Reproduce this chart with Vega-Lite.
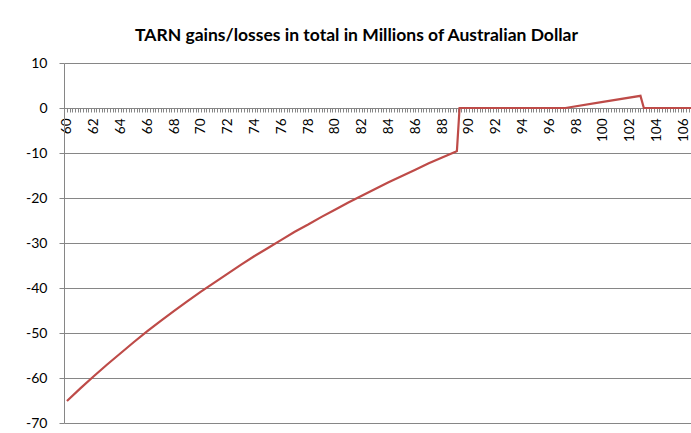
{
  "$schema": "https://vega.github.io/schema/vega-lite/v6.json",
  "width": 627,
  "height": 360,
  "autosize": {"type": "none"},
  "padding": {"left": 64, "top": 63, "right": 0, "bottom": 10},
  "background": "white",
  "title": {
    "text": "TARN gains/losses in total in Millions of Australian Dollar",
    "font": "Lato",
    "fontSize": 17.5,
    "fontWeight": "bold",
    "color": "#000000",
    "anchor": "middle",
    "dx": -21,
    "offset": 12
  },
  "data": {
    "values": [
      {"price": 60, "pnl": -65.1},
      {"price": 61, "pnl": -62.3},
      {"price": 62, "pnl": -59.6},
      {"price": 63, "pnl": -57.0},
      {"price": 64, "pnl": -54.5},
      {"price": 65, "pnl": -52.0},
      {"price": 66, "pnl": -49.6},
      {"price": 67, "pnl": -47.3},
      {"price": 68, "pnl": -45.1},
      {"price": 69, "pnl": -42.9},
      {"price": 70, "pnl": -40.8},
      {"price": 71, "pnl": -38.8},
      {"price": 72, "pnl": -36.8},
      {"price": 73, "pnl": -34.8},
      {"price": 74, "pnl": -32.9},
      {"price": 75, "pnl": -31.1},
      {"price": 76, "pnl": -29.3},
      {"price": 77, "pnl": -27.5},
      {"price": 78, "pnl": -25.9},
      {"price": 79, "pnl": -24.2},
      {"price": 80, "pnl": -22.6},
      {"price": 81, "pnl": -21.0},
      {"price": 82, "pnl": -19.5},
      {"price": 83, "pnl": -18.0},
      {"price": 84, "pnl": -16.5},
      {"price": 85, "pnl": -15.1},
      {"price": 86, "pnl": -13.7},
      {"price": 87, "pnl": -12.3},
      {"price": 88, "pnl": -11.0},
      {"price": 89, "pnl": -9.7},
      {"price": 89.1, "pnl": -9.55},
      {"price": 89.3, "pnl": 0},
      {"price": 97.2, "pnl": 0},
      {"price": 100, "pnl": 1.35},
      {"price": 102.8, "pnl": 2.7},
      {"price": 103.05, "pnl": 0},
      {"price": 106.6, "pnl": 0}
    ]
  },
  "mark": {"type": "line", "color": "#BE4B48", "strokeWidth": 2.2, "clip": true},
  "encoding": {
    "x": {
      "field": "price",
      "type": "quantitative",
      "scale": {"domain": [59.78, 106.57], "nice": false, "zero": false},
      "axis": {
        "title": null,
        "orient": "bottom",
        "offset": -315,
        "tickCount": 230,
        "labelExpr": "abs(datum.value - 2*round(datum.value/2)) < 0.01 ? '' + round(datum.value) : ''",
        "labelAngle": -90,
        "labelOverlap": false,
        "labelFlush": false,
        "labelBound": false,
        "grid": false,
        "domainColor": "#868686",
        "tickColor": "#868686",
        "tickSize": 4,
        "labelFont": "Lato",
        "labelFontSize": 13.5,
        "labelColor": "#000000",
        "labelPadding": 6
      }
    },
    "y": {
      "field": "pnl",
      "type": "quantitative",
      "scale": {"domain": [-70, 10], "nice": false},
      "axis": {
        "title": null,
        "values": [-70, -60, -50, -40, -30, -20, -10, 0, 10],
        "labelExpr": "'' + datum.value",
        "grid": true,
        "gridColor": "#868686",
        "domainColor": "#868686",
        "tickColor": "#868686",
        "tickSize": 5,
        "labelPadding": 12,
        "labelFont": "Lato",
        "labelFontSize": 14,
        "labelColor": "#000000"
      }
    }
  },
  "config": {"view": {"stroke": null}}
}
